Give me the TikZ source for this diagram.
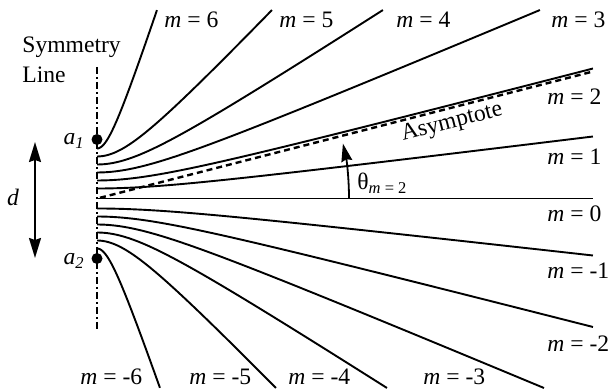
\documentclass[tikz,border=0pt]{standalone}
\usepackage{fontspec}
\setmainfont{Liberation Serif}
\usetikzlibrary{arrows.meta}
\tikzset{
  fringe/.style={line width=0.95pt},
  asym/.style={line width=1.2pt,dash pattern=on 3pt off 2pt},
  symline/.style={line width=0.8pt,dash pattern=on 3.5pt off 1.5pt on 1pt off 1.5pt},
  source/.style={circle,fill=black,inner sep=0pt,minimum size=5.5pt},
  txt/.style={inner sep=0pt,font=\fontsize{11.8}{15}\selectfont},
  mlabel/.style={txt,anchor=west},
  dimarrow/.style={{Stealth[length=10pt,width=6pt,inset=1pt]}-{Stealth[length=10pt,width=6pt,inset=1pt]},line width=0.9pt},
  anglearrow/.style={-{Stealth[length=9pt,width=5.5pt,inset=1pt]},line width=0.9pt}
}

\begin{document}
\begin{tikzpicture}[x=50pt,y=50pt]
  \useasboundingbox (-0.97,-1.915) rectangle (5.13,1.985);
  \draw[symline] (0,1.315) -- (0,-1.315);
  % fringe lines
  \coordinate (mid) at (0,0);
  \coordinate (zeroend) at (4.96,0);
  \draw[fringe] (mid) -- (zeroend);
  \foreach \a/\xe/\ye in {0.10/4.96/0.62, 0.18/4.96/1.30, 0.26/4.43/1.885, 0.34/2.86/1.885, 0.42/1.75/1.885, 0.50/0.60/1.885,
                          0.10/4.96/-0.57, 0.18/4.96/-1.285, 0.26/4.47/-1.895, 0.34/2.90/-1.895, 0.42/1.79/-1.895, 0.50/0.63/-1.895}
  {
    \pgfmathsetmacro{\k}{sqrt((\ye)*(\ye)-\a*\a)/\xe}
    \draw[fringe] plot[domain=0:\xe,samples=60,smooth] (\x,{sign(\ye)*sqrt(\a*\a+(\k*\x)^2)});
  }
  \coordinate (asymstart) at (0.03,0.007);
  \coordinate (asymend) at (4.96,1.27);
  \draw[asym] (asymstart) -- (asymend);
  \node[txt,rotate=14.4] (asymlab) at (3.55,0.755) {Asymptote};

  % angle
  \coordinate (thetabase) at (2.52,0);
  \draw[anglearrow] (thetabase) arc[start angle=0,end angle=12.6,radius=2.52];
  \node[txt,anchor=west] (theta) at (2.60,0.15) {θ\textsubscript{\textit{m} = 2}};

  % sources
  \node[source] (a1) at (0,0.59) {};
  \node[source] (a2) at (0,-0.60) {};
  \node[txt,anchor=base east] (a1lab) at (-0.12,0.535) {\textit{a}\textsubscript{\textit{1}}};
  \node[txt,anchor=base east] (a2lab) at (-0.12,-0.665) {\textit{a}\textsubscript{\textit{2}}};
  \node[txt,align=left,anchor=west] (symlab) at (-0.75,1.385) {Symmetry\\Line};

  % separation
  \coordinate (dtop) at (-0.62,0.565);
  \coordinate (dbot) at (-0.62,-0.595);
  \draw[dimarrow] (dtop) -- (dbot);
  \node[txt] (dlab) at (-0.84,0.015) {\textit{d}};

  \foreach \m/\px/\py in {6/0.67/1.785, 5/1.82/1.785, 4/2.99/1.785, 3/4.54/1.785, 2/4.50/1.015, 1/4.50/0.415, 0/4.50/-0.155,
                          -1/4.50/-0.725, -2/4.50/-1.455, -3/3.26/-1.785, -4/1.91/-1.785, -5/0.92/-1.785, -6/-0.17/-1.785}
    \node[mlabel] (m\m) at (\px,\py) {\textit{m} = \m};
\end{tikzpicture}
\end{document}
